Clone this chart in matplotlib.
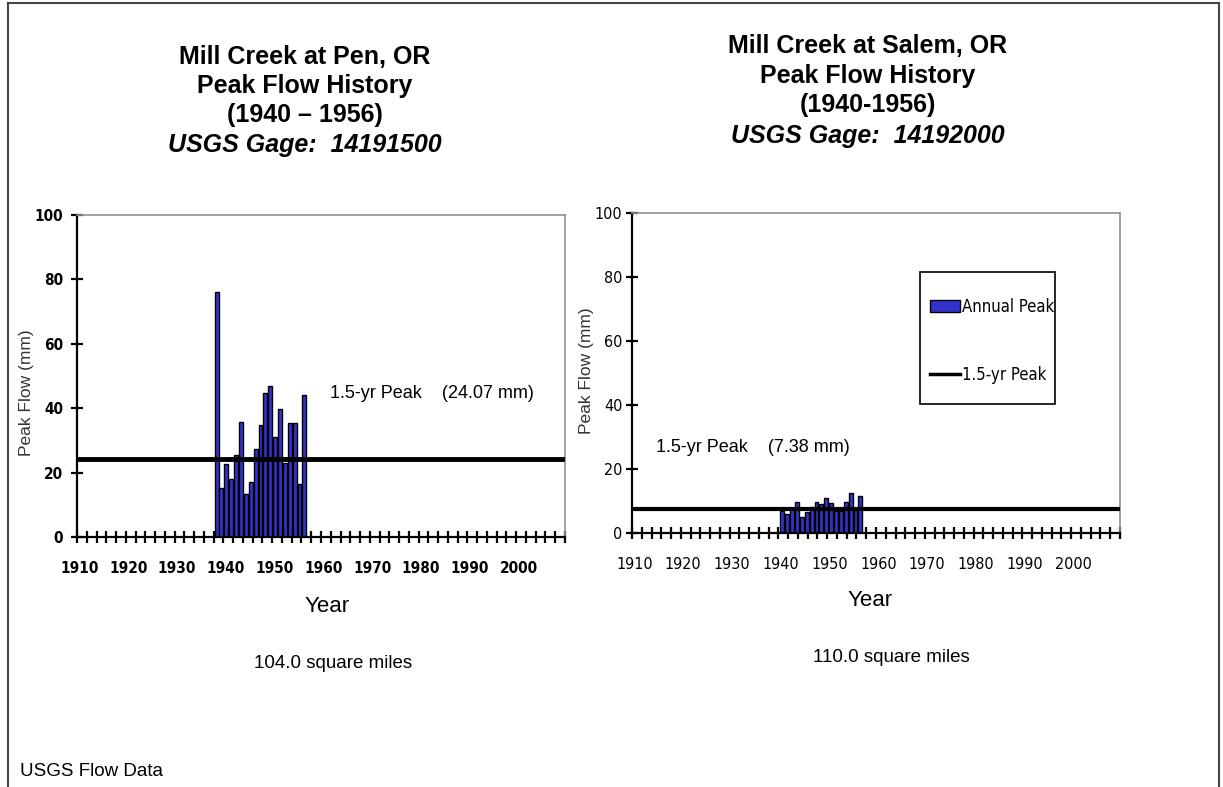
import matplotlib
matplotlib.use('Agg')
import matplotlib.pyplot as plt
from matplotlib import font_manager
from matplotlib.font_manager import FontProperties
from matplotlib.lines import Line2D
from matplotlib.patches import Rectangle
import numpy as np

# ---------------- data ----------------
pen_years = list(range(1938, 1957))
pen_peaks = [76, 15.3, 22.7, 18, 25.5, 35.7, 13.3, 17, 27.3, 34.8,
             44.7, 47, 31, 39.8, 23, 35.4, 35.4, 16.4, 44]
pen_15yr = 24.07

salem_years = list(range(1940, 1957))
salem_peaks = [7.0, 6.0, 7.8, 9.7, 5.0, 6.5, 8.0, 9.7, 9.0, 10.9,
               9.4, 7.0, 7.0, 9.7, 12.5, 7.2, 11.6]
salem_15yr = 7.38

decade_labels = [1910, 1920, 1930, 1940, 1950, 1960, 1970, 1980, 1990, 2000]
y_ticks = [0, 20, 40, 60, 80, 100]

pen_title = ["Mill Creek at Pen, OR", "Peak Flow History", "(1940 \u2013 1956)", "USGS Gage:  14191500"]
salem_title = ["Mill Creek at Salem, OR", "Peak Flow History", "(1940-1956)", "USGS Gage:  14192000"]

BAR = '#3333cc'
SANS = 'Liberation Sans'


# ---------------- fonts ----------------
def _w(f):
    w = f.weight
    if isinstance(w, str):
        w = font_manager.weight_dict.get(w, 400)
    return w


def _narrow(f):
    s = f.stretch
    if isinstance(s, str):
        s = font_manager.stretch_dict.get(s, 500)
    return ('Narrow' in f.name) or ('Condensed' in f.name) or s < 500


def find_condensed(bold):
    pref = ['Liberation Sans Narrow', 'Arial Narrow', 'Liberation Sans', 'DejaVu Sans',
            'DejaVu Sans Condensed', 'Roboto Condensed', 'Open Sans Condensed',
            'Open Sans', 'Noto Sans', 'Roboto']
    best = None
    for f in font_manager.fontManager.ttflist:
        if not _narrow(f):
            continue
        if f.style != 'normal':
            continue
        w = _w(f)
        if bold and w < 600:
            continue
        if (not bold) and (w >= 600 or w < 350):
            continue
        rank = pref.index(f.name) if f.name in pref else len(pref)
        if best is None or rank < best[0]:
            best = (rank, f.fname)
    return best[1] if best else None


fb = find_condensed(True)
fr = find_condensed(False)


def tick_fp(bold, size=12):
    fname = fb if bold else fr
    if fname:
        return FontProperties(fname=fname, size=size)
    return FontProperties(family=SANS, weight='bold' if bold else 'normal', size=size - 1.5)


fig = plt.figure(figsize=(12.23, 7.87), dpi=100)
W, H = 1223, 787


def fx(px):
    return px / W


def fy(py):
    return 1 - py / H


def style_axes(ax, bold, ypad, size):
    fp = tick_fp(bold, size)
    ax.set_xlim(1909.5, 2009.5)
    ax.set_ylim(0, 100)
    ax.set_xticks(decade_labels)
    ax.set_xticklabels([str(d) for d in decade_labels], fontproperties=fp)
    ax.set_xticks(np.arange(1909.5, 2010, 2), minor=True)
    ax.tick_params(axis='x', which='major', length=0, pad=17)
    ax.tick_params(axis='x', which='minor', direction='inout', length=9, width=1.6)
    ax.set_yticks(y_ticks)
    ax.set_yticklabels([str(v) for v in y_ticks], fontproperties=fp)
    ax.tick_params(axis='y', direction='inout', length=8, width=1.6, pad=ypad)
    for s in ['left', 'bottom']:
        ax.spines[s].set_color('black')
        ax.spines[s].set_linewidth(1.6)
    for s in ['top', 'right']:
        ax.spines[s].set_color('#909090')
        ax.spines[s].set_linewidth(1.2)
    ax.set_facecolor('white')


# ---------------- left chart ----------------
axL = fig.add_axes([fx(77), fy(537), 488 / W, 322 / H])
axL.bar(np.array(pen_years) + 0.1, pen_peaks, width=0.8, color=BAR,
        edgecolor='black', linewidth=1.0, zorder=2)
axL.axhline(pen_15yr, color='black', linewidth=3.5, zorder=3)
style_axes(axL, True, 6, 11)
axL.text(1961.4, 44.7, "1.5-yr Peak    (24.07 mm)", fontfamily=SANS, fontsize=13,
         va='center', ha='left')
fig.text(fx(327), fy(607), "Year", ha='center', va='center', fontfamily=SANS, fontsize=16)
fig.text(fx(26), fy(393), "Peak Flow (mm)", rotation=90, fontfamily=SANS,
         fontsize=12.5, ha='center', va='center', color='#333333')

# ---------------- right chart ----------------
axR = fig.add_axes([fx(632), fy(533), 488 / W, 320 / H])
bars = axR.bar(np.array(salem_years) + 0.3, salem_peaks, width=0.8, color=BAR,
               edgecolor='black', linewidth=1.0, zorder=2)
axR.axhline(salem_15yr, color='black', linewidth=3.0, zorder=3)
style_axes(axR, False, 3, 11.5)
axR.text(1914.4, 26.6, "1.5-yr Peak    (7.38 mm)", fontfamily=SANS, fontsize=13,
         va='center', ha='left')
fig.text(fx(870), fy(601), "Year", ha='center', va='center', fontfamily=SANS, fontsize=16)
fig.text(fx(586), fy(371), "Peak Flow (mm)", rotation=90, fontfamily=SANS,
         fontsize=12.5, ha='center', va='center', color='#333333')

# legend: frame drawn separately so padding can differ from entry spacing
axR.add_patch(Rectangle((0.59, 0.403), 0.277, 0.413, transform=axR.transAxes,
                        facecolor='white', edgecolor='black', linewidth=1.2, zorder=5))
leg_fp = tick_fp(False, 12)
leg = axR.legend(handles=[bars, Line2D([], [], color='black', linewidth=2.5)],
                 labels=['Annual Peak', '1.5-yr Peak'],
                 loc='upper left', bbox_to_anchor=(0.61, 0.735),
                 prop=leg_fp, frameon=False, borderpad=0,
                 labelspacing=3.0, handlelength=1.8, handletextpad=0.15,
                 borderaxespad=0)
leg.set_zorder(6)

# ---------------- titles ----------------
left_y = [57, 86, 115, 145]
for i, (t, y) in enumerate(zip(pen_title, left_y)):
    fig.text(fx(305), fy(y), t, ha='center', va='center', fontfamily=SANS,
             fontweight='bold', fontstyle='italic' if i == 3 else 'normal', fontsize=18)
right_y = [46, 76, 105, 136]
for i, (t, y) in enumerate(zip(salem_title, right_y)):
    fig.text(fx(868), fy(y), t, ha='center', va='center', fontfamily=SANS,
             fontweight='bold', fontstyle='italic' if i == 3 else 'normal', fontsize=18)

fig.text(fx(333), fy(663), "104.0 square miles", ha='center', va='center',
         fontfamily=SANS, fontsize=13.5)
fig.text(fx(891), fy(657), "110.0 square miles", ha='center', va='center',
         fontfamily=SANS, fontsize=13.5)
fig.text(fx(20), fy(771), "USGS Flow Data", ha='left', va='center',
         fontfamily=SANS, fontsize=13.5)

# outer frame
fig.add_artist(Line2D([fx(8), fx(8)], [0, fy(3)], color='#444444', lw=1.5))
fig.add_artist(Line2D([fx(8), fx(1219)], [fy(3), fy(3)], color='#444444', lw=1.5))
fig.add_artist(Line2D([fx(1219), fx(1219)], [0, fy(3)], color='#444444', lw=1.5))

fig.savefig('out.png', dpi=100, facecolor='white')
